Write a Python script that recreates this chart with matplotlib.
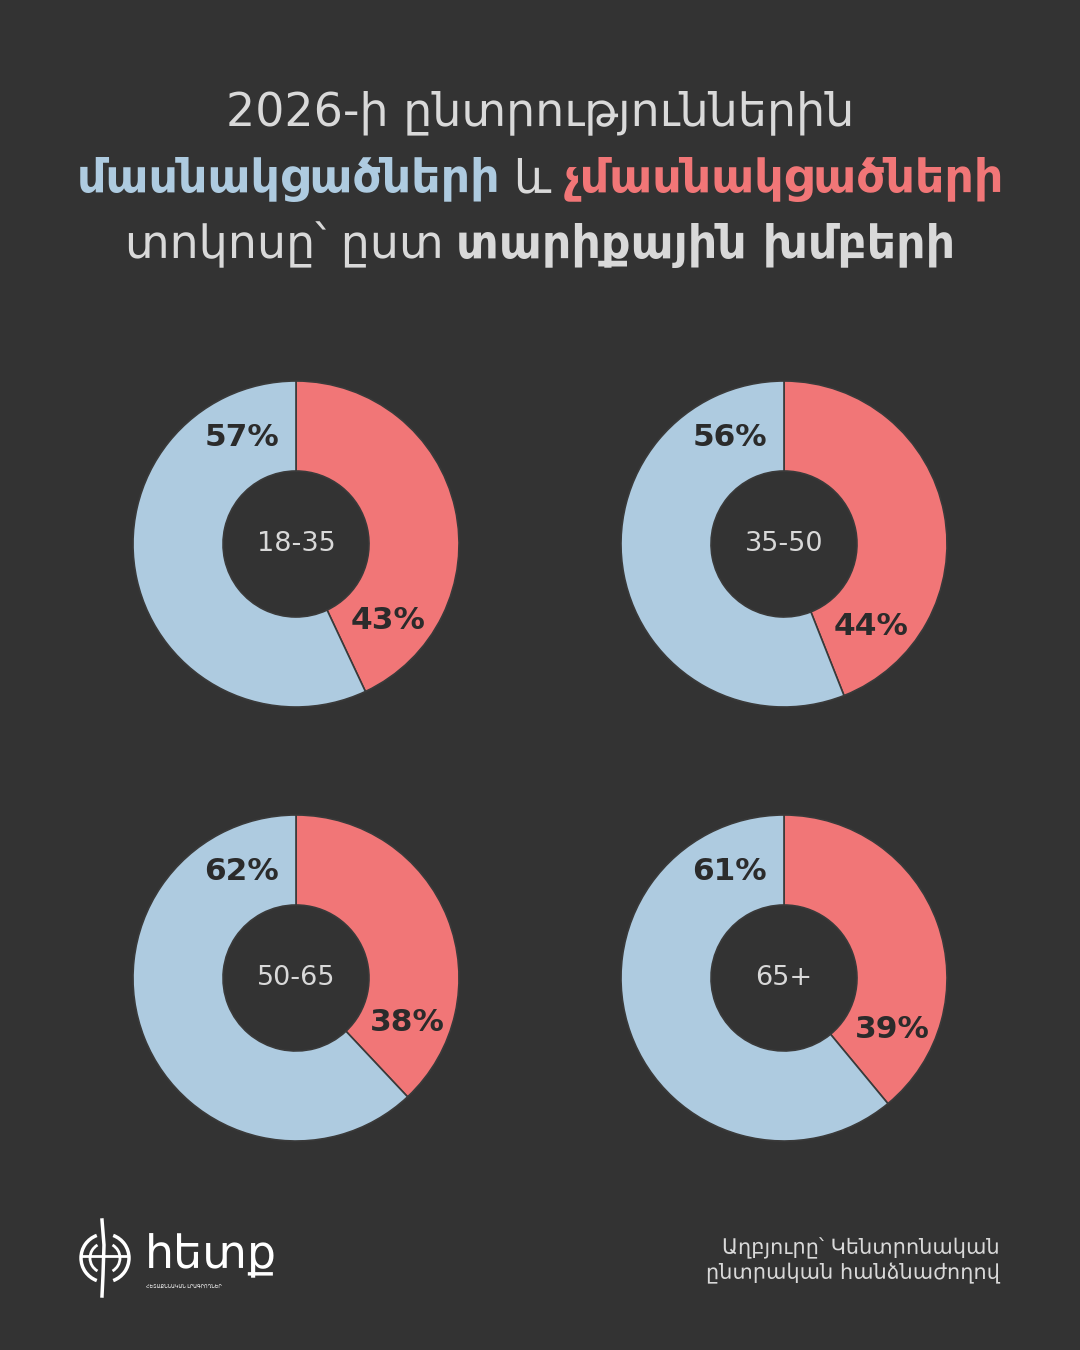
import matplotlib.pyplot as plt
import numpy as np
from matplotlib.patches import Arc

# --- data
groups = ['18-35', '35-50', '50-65', '65+']
voted = [57, 56, 62, 61]        # մասնակցածներ (blue)
not_voted = [43, 44, 38, 39]    # չմասնակցածներ (red)

bg = '#333333'
blue = '#aecbe0'
red = '#f17677'
txt = '#d9d9d9'

plt.rcParams['font.family'] = ['DejaVu Sans']

fig = plt.figure(figsize=(10.8, 13.5), dpi=100, facecolor=bg)

# overlay axes in pixel coords for text / logo
ov = fig.add_axes([0, 0, 1, 1], zorder=5)
ov.set_xlim(0, 1080)
ov.set_ylim(1350, 0)
ov.axis('off')
ov.patch.set_alpha(0)

def px_axes(cx, cy, half):
    W, H = 1080.0, 1350.0
    return fig.add_axes([(cx - half) / W, 1 - (cy + half) / H, 2 * half / W, 2 * half / H])

centers = [(296, 544), (784, 544), (296, 978), (784, 978)]
R = 163.0
half = 170.0
for (cx, cy), g, v, n in zip(centers, groups, voted, not_voted):
    ax = px_axes(cx, cy, half)
    ax.set_facecolor(bg)
    ax.pie([n, v], colors=[red, blue], startangle=90, counterclock=False,
           radius=R / half, wedgeprops=dict(width=(R - 73) / half, edgecolor='#3a3a3a', linewidth=1.2))
    ax.set_xlim(-1, 1)
    ax.set_ylim(-1, 1)
    ax.set_aspect('equal')
    ax.axis('off')
    ax.text(0, 0, g, ha='center', va='center', fontsize=19.5, color=txt)
    r_lab = 120 / half
    # blue label near the top, left of the split
    a = np.deg2rad(90 + 27)
    ax.text(r_lab * np.cos(a), r_lab * np.sin(a), f'{v}%', ha='center', va='center',
            fontsize=22.5, fontweight='bold', color='#2b2b2b')
    # red label near the end of the red slice
    end = n / 100 * 360
    a = np.deg2rad(90 - (end - 25))
    ax.text(r_lab * np.cos(a), r_lab * np.sin(a), f'{n}%', ha='center', va='center',
            fontsize=22.5, fontweight='bold', color='#2b2b2b')

# --- title, built from coloured pieces
fig.canvas.draw()
renderer = fig.canvas.get_renderer()

def centered_line(y, parts, size=33, gap=13):
    objs = [ov.text(0, y, s, color=c, fontweight=w, fontsize=size, ha='left', va='center')
            for s, c, w in parts]
    widths = [o.get_window_extent(renderer).width for o in objs]
    total = sum(widths) + gap * (len(objs) - 1)
    x = 540 - total / 2
    for o, wd in zip(objs, widths):
        o.set_x(x)
        x += wd + gap

centered_line(113, [('2026-ի ընտրություններին', txt, 'normal')])
centered_line(180, [('մասնակցածների', blue, 'bold'), ('և', txt, 'normal'),
                    ('չմասնակցածների', red, 'bold')])
centered_line(245, [('տոկոսը՝ ըստ', txt, 'normal'), ('տարիքային խմբերի', txt, 'bold')])

# --- source
ov.text(1000, 1248, 'Աղբյուրը՝ Կենտրոնական', ha='right', va='center', fontsize=15, color=txt)
ov.text(1000, 1273, 'ընտրական հանձնաժողով', ha='right', va='center', fontsize=15, color=txt)

# --- logo
lc = 'white'
ov.add_patch(Arc((105, 1258), 48, 48, theta1=110, theta2=250, color=lc, lw=2.5))
ov.add_patch(Arc((105, 1258), 48, 48, theta1=-70, theta2=70, color=lc, lw=2.5))
ov.add_patch(Arc((105, 1258), 30, 30, theta1=120, theta2=240, color=lc, lw=2))
ov.add_patch(Arc((105, 1258), 30, 30, theta1=-60, theta2=60, color=lc, lw=2))
ov.plot([102, 104, 103, 102], [1220, 1245, 1275, 1296], color=lc, lw=2.5)
ov.plot([82, 128], [1256, 1256], color=lc, lw=2)
ov.text(145, 1256, 'հետք', ha='left', va='center', fontsize=33, color=lc)
ov.text(146, 1287, 'ՀԵՏԱՔՆՆԱԿԱՆ ԼՐԱԳՐՈՂՆԵՐ', ha='left', va='center', fontsize=3.5, color=lc)

fig.savefig('out.png', dpi=100, facecolor=bg)
